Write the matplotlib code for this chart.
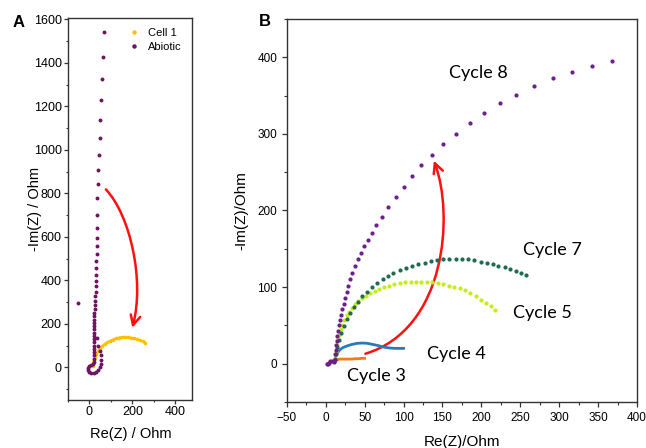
import numpy as np
import matplotlib.pyplot as plt
from matplotlib.patches import FancyArrowPatch
from matplotlib.path import Path
from matplotlib.ticker import MultipleLocator

plt.rcParams['font.family'] = ['Liberation Sans', 'DejaVu Sans']

# ---- Panel A data ----
abiotic_x = [-52, 36, 42, 48, 52, 53, 52, 48, 42, 32, 20, 8, -2, -8, -7, 0, 10, 17,
             20, 21, 21, 22, 22, 22, 21, 21, 21, 20, 20, 20,
             21, 22, 23, 24, 25, 26, 27, 28, 29, 30, 30, 31, 32, 33, 34, 35, 36,
             37, 38, 37, 41, 42, 46, 48, 51, 56, 60, 65, 70]
abiotic_y = [298, 136, 100, 75, 55, 35, 18, 2, -10, -20, -26, -26, -21, -12, -2, 5, 9, 14,
             25, 40, 55, 70, 85, 100, 115, 130, 145, 160, 175, 190,
             205, 220, 235, 251, 268, 286, 305, 326, 348, 372, 398, 426, 456, 488, 522, 558, 596,
             640, 700, 778, 842, 908, 976, 1056, 1138, 1228, 1325, 1427, 1540]

cell1_x = [18, 19, 22, 27, 33, 41, 50, 60, 71, 83, 96, 110, 124, 138, 152, 166,
           180, 194, 208, 222, 236, 249, 260]
cell1_y = [5, 20, 35, 50, 63, 76, 88, 98, 107, 115, 122, 128, 133, 137, 139, 140,
           139, 137, 134, 130, 125, 120, 114]

# ---- Panel B data ----
c3_x = [2, 4, 6, 8, 10, 12, 14, 18, 22, 26, 30, 34, 38, 42, 46, 50]
c3_y = [0, 1, 2, 2, 3, 4, 5, 6, 6, 6, 6, 6, 6.5, 6.5, 7, 7]

c4_x = [12, 13, 15, 18, 22, 27, 33, 40, 47, 54, 61, 68, 75, 82, 89, 95, 100]
c4_y = [5, 10, 14, 18, 21, 23, 25, 26.5, 27, 26.5, 25, 23.5, 21.5, 20.5, 20, 20, 20]

c5_x = [12, 13, 14, 15, 17, 19, 21, 24, 27, 30, 34, 38, 42, 47, 52, 57, 63, 69, 75, 81,
        88, 95, 102, 109, 116, 123, 130, 137, 144, 151, 158, 165, 172, 179, 186, 193,
        200, 206, 212, 218]
c5_y = [8, 16, 24, 31, 38, 45, 51, 57, 63, 68, 73, 78, 82, 86, 89, 92, 95, 98, 100, 102,
        104, 105, 106, 107, 107, 107, 106, 106, 105, 104, 102, 100, 99, 96, 92, 88,
        83, 79, 75, 70]

c7_x = [12, 13, 15, 17, 20, 23, 27, 31, 36, 41, 47, 53, 59, 66, 73, 80, 87, 95, 103, 111,
        119, 127, 135, 143, 151, 159, 167, 175, 183, 191, 199, 207, 215, 222, 230, 237,
        244, 251, 258]
c7_y = [6, 13, 22, 31, 40, 49, 58, 66, 74, 81, 88, 94, 100, 105, 110, 114, 118, 122, 125, 128,
        130, 132, 134, 135, 136, 137, 137, 137, 136, 135, 133, 131, 130, 128, 126, 124,
        121, 119, 116]

c8_x = [2, 3, 4, 6, 8, 10, 11,
        12, 12, 13, 13, 14, 15, 16, 17, 18, 20,
        21, 23, 25, 27, 29, 31, 34, 37, 41, 45,
        49, 54, 59, 65, 72, 80, 90, 100, 111, 123,
        136, 151, 167, 185, 203, 224, 245, 268, 292, 317,
        342, 368]
c8_y = [0, -1, 1, 3, 4, 3, 2,
        5, 12, 18, 24, 30, 36, 43, 50, 57, 64,
        71, 78, 86, 94, 102, 110, 119, 127, 136, 145,
        153, 162, 171, 181, 192, 205, 218, 231, 245, 259,
        273, 287, 300, 314, 327, 340, 351, 363, 373, 381,
        388, 395]

cycle_labels = ['Cycle 8', 'Cycle 7', 'Cycle 5', 'Cycle 4', 'Cycle 3']
label_x = [158, 254, 241, 130, 27]
label_y = [380, 148, 66, 13, -16]

fig = plt.figure(figsize=(6.46, 4.48), dpi=100)

spine_col = '#333333'


def style_axes(ax, fs, length, pad):
    for s in ax.spines.values():
        s.set_color(spine_col)
        s.set_linewidth(1.0)
    ax.tick_params(which='both', direction='out', top=False, right=False,
                   colors=spine_col, labelcolor='black', labelsize=fs, pad=pad)
    ax.tick_params(which='major', length=length, width=0.9)
    ax.tick_params(which='minor', length=length * 0.6, width=0.8)


def curved_arrow(ax, pts):
    codes = [Path.MOVETO, Path.CURVE4, Path.CURVE4, Path.CURVE4]
    arr = FancyArrowPatch(path=Path(pts, codes),
                          arrowstyle='->,head_length=0.5,head_width=0.25',
                          mutation_scale=14, color='#ff1010', lw=1.8,
                          transform=ax.transData)
    ax.add_patch(arr)


# ---- Panel A ----
axA = fig.add_axes([0.105, 0.107, 0.192, 0.853])
axA.plot(cell1_x, cell1_y, '-', color='#ffc000', lw=1.6, marker='o', ms=1.6,
         label='Cell 1')
axA.plot(abiotic_x, abiotic_y, 'o', color='#6e1460', ms=1.8, label='Abiotic')
axA.set_xlim(-100, 477)
axA.set_ylim(-150, 1606)
axA.xaxis.set_major_locator(MultipleLocator(200))
axA.xaxis.set_minor_locator(MultipleLocator(100))
axA.yaxis.set_major_locator(MultipleLocator(200))
axA.yaxis.set_minor_locator(MultipleLocator(100))
style_axes(axA, 9, 3, 1.5)
axA.set_xlabel('Re(Z) / Ohm', fontsize=10.5)
axA.set_ylabel('-Im(Z) / Ohm', fontsize=10.5)
axA.xaxis.set_label_coords(0.51, -0.07)
axA.yaxis.set_label_coords(-0.21, 0.5)
leg = axA.legend(loc='upper right', bbox_to_anchor=(1.0, 1.0), frameon=False,
                 fontsize=8, handlelength=0.8, handletextpad=0.9, labelspacing=0.35,
                 markerscale=1.0)
for h in leg.legend_handles:
    h.set_linestyle('none')
    h.set_markersize(2.2)

curved_arrow(axA, [(77, 818), (190, 700), (258, 400), (200, 182)])
fig.text(0.02, 0.95, 'A', fontsize=12, fontweight='bold', va='center')

# ---- Panel B ----
axB = fig.add_axes([0.444, 0.1027, 0.542, 0.855])
axB.plot(c3_x, c3_y, '-', color='#f47a20', lw=2)
axB.plot(c4_x, c4_y, '-', color='#2a7ab8', lw=2)
axB.plot(c5_x, c5_y, 'o', color='#c6ec1a', ms=2)
axB.plot(c7_x, c7_y, 'o', color='#1d6b52', ms=2)
axB.plot(c8_x, c8_y, 'o', color='#6e1d8c', ms=2)
axB.set_xlim(-50, 400)
axB.set_ylim(-50, 450)
axB.xaxis.set_major_locator(MultipleLocator(50))
axB.xaxis.set_minor_locator(MultipleLocator(25))
axB.yaxis.set_major_locator(MultipleLocator(100))
axB.yaxis.set_minor_locator(MultipleLocator(50))
style_axes(axB, 8.5, 3.5, 3.5)
axB.set_xlabel('Re(Z)/Ohm', fontsize=11)
axB.set_ylabel('-Im(Z)/Ohm', fontsize=11)
axB.xaxis.set_label_coords(0.5, -0.085)
axB.yaxis.set_label_coords(-0.11, 0.5)

for t, x, y in zip(cycle_labels, label_x, label_y):
    axB.text(x, y, t, fontsize=13, family=['Lato', 'DejaVu Sans'], va='center', ha='left')

curved_arrow(axB, [(51, 13), (155, 45), (165, 195), (139, 265)])
fig.text(0.40, 0.953, 'B', fontsize=12, fontweight='bold', va='center')

fig.savefig('out.png', dpi=100)
